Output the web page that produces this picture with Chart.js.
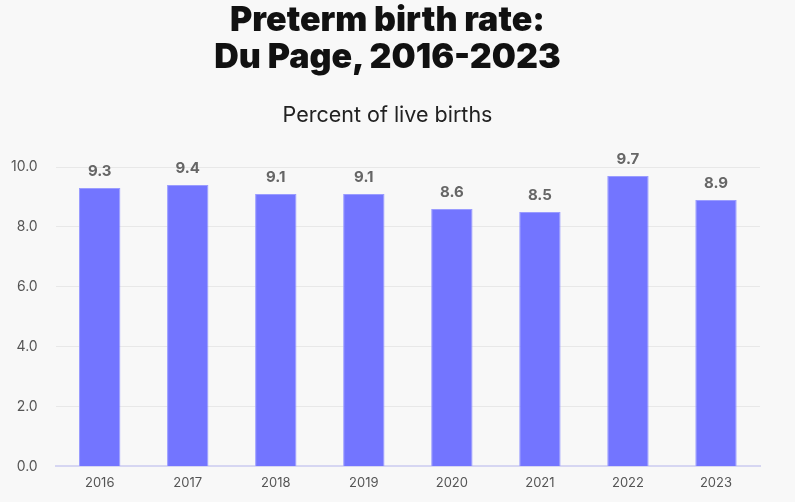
<!DOCTYPE html>
<html>
<head>
<meta charset="utf-8">
<script src="https://cdn.jsdelivr.net/npm/chart.js@4/dist/chart.umd.min.js"></script>
<style>
  html, body { margin: 0; padding: 0; background: #f8f8f8; }
  #wrap { position: relative; width: 795px; height: 502px; }
  .title {
    position: absolute; left: 0; width: 775px; text-align: center;
    font-family: Inter, sans-serif; color: #111;
  }
  #t1 { top: 0; font-size: 34px; font-weight: 900; line-height: 37px; }
  #t2 { top: 100px; font-size: 21.5px; font-weight: 400; color: #222; line-height: 28px; }
</style>
</head>
<body>
<div id="wrap">
  <div class="title" id="t1">Preterm birth rate:<br>Du Page, 2016-2023</div>
  <div class="title" id="t2">Percent of live births</div>
  <canvas id="c"></canvas>
</div>
<script>
const years = ['2016', '2017', '2018', '2019', '2020', '2021', '2022', '2023'];
const rates = [9.3, 9.4, 9.1, 9.1, 8.6, 8.5, 9.7, 8.9];
const yTicks = [0, 2, 4, 6, 8, 10];

// value labels above each bar
const barLabels = {
    id: 'barLabels',
    afterDatasetsDraw(chart) {
        const ctx = chart.ctx;
        const meta = chart.getDatasetMeta(0);
        ctx.save();
        ctx.font = 'bold 15px Inter, sans-serif';
        ctx.fillStyle = '#666666';
        ctx.textAlign = 'center';
        ctx.textBaseline = 'bottom';
        meta.data.forEach((bar, i) => {
            ctx.fillText(rates[i].toFixed(1), bar.x, bar.y - 9);
        });
        ctx.restore();
    }
};

new Chart(document.getElementById('c'), {
    type: 'bar',
    data: {
        labels: years,
        datasets: [{
            data: rates,
            backgroundColor: '#7375ff',
            borderColor: '#9a9cff',
            borderWidth: 1,
            categoryPercentage: 1.0,
            barPercentage: 0.47
        }]
    },
    options: {
        responsive: true,
        maintainAspectRatio: false,
        animation: false,
        layout: { padding: { left: -7, right: 35, top: 167, bottom: 10 } },
        plugins: {
            legend: { display: false },
            tooltip: { enabled: false }
        },
        scales: {
            x: {
                grid: { display: false },
                border: { color: '#d6d6f2', width: 2 },
                ticks: {
                    color: '#555555',
                    font: { family: 'Inter, sans-serif', size: 13 },
                    padding: 1
                }
            },
            y: {
                min: 0,
                max: 10,
                afterBuildTicks(axis) {
                    axis.ticks = yTicks.map(v => ({ value: v }));
                },
                grid: { color: '#e8e8e8', drawTicks: false },
                border: { display: false },
                ticks: {
                    color: '#555555',
                    font: { family: 'Inter, sans-serif', size: 14 },
                    padding: 18,
                    callback: v => v.toFixed(1)
                }
            }
        }
    },
    plugins: [barLabels]
});
</script>
</body>
</html>
